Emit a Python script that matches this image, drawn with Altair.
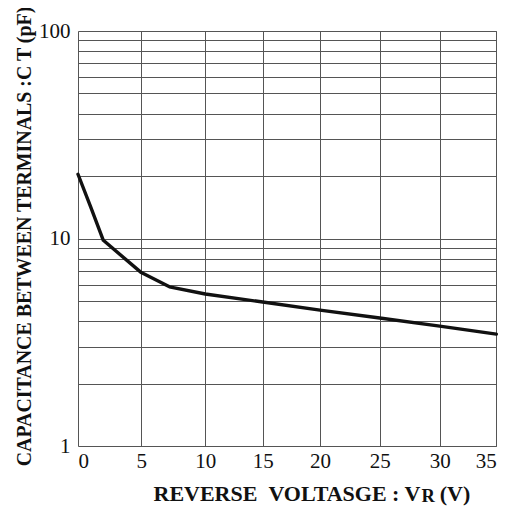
import altair as alt
import pandas as pd

# Curve values
vr = [0, 1, 2, 5, 7.2, 10, 15, 20, 25, 30, 35]
ct = [20.4, 14.2, 9.8, 6.85, 5.85, 5.4, 4.94, 4.52, 4.14, 3.78, 3.46]

x_ticks = [0, 5, 10, 15, 20, 25, 30, 35]
y_grid = [1, 2, 3, 4, 5, 6, 7, 8, 9, 10, 20, 30, 40, 50, 60, 70, 80, 90, 100]

# Hand-drawn grid of the original is not evenly spaced
x_range = [0, 63.3, 127.3, 184.7, 242, 301.7, 361.7, 418.3]

df = pd.DataFrame({"vr": vr, "ct": ct})

FONT = "Liberation Serif"
W, H = 418, 415

xscale = alt.Scale(domain=x_ticks, range=x_range)
yscale = alt.Scale(type="log", domain=[1, 100])

line = alt.Chart(df).mark_line(color="#111111", strokeWidth=3.4, strokeCap="round",
                               strokeJoin="round").encode(
    x=alt.X("vr:Q", scale=xscale,
            axis=alt.Axis(values=x_ticks, title=None, grid=True, ticks=False, domain=False,
                          gridColor="#555555", gridWidth=1, labelFont=FONT, labelFontSize=21,
                          labelColor="#111", labelPadding=4, format="d")),
    y=alt.Y("ct:Q", scale=yscale,
            axis=alt.Axis(values=y_grid, title=None, grid=True, ticks=False, domain=False,
                          gridColor="#555555", gridWidth=1, labelFont=FONT, labelFontSize=21,
                          labelColor="#111", labelPadding=8,
                          labelExpr="datum.value == 1 || datum.value == 10 || datum.value == 100 ? '' + datum.value : ''")),
)

ytitle = alt.Chart(pd.DataFrame({"t": ["CAPACITANCE BETWEEN TERMINALS :C T (pF)"]})).mark_text(
    angle=270, align="center", baseline="alphabetic", font=FONT, fontSize=19.9,
    fontWeight="bold", color="#111").encode(
    text="t:N", x=alt.value(-46.6), y=alt.value(205.5))

xt1 = alt.Chart(pd.DataFrame({"t": ["REVERSE\u00a0\u00a0VOLTASGE : V"]})).mark_text(
    align="right", baseline="alphabetic", font=FONT, fontSize=22, fontWeight="bold",
    color="#111").encode(text="t:N", x=alt.value(342.4), y=alt.value(469.7))
xt2 = alt.Chart(pd.DataFrame({"t": ["R"]})).mark_text(
    align="left", baseline="alphabetic", font=FONT, fontSize=18.5, fontWeight="bold",
    color="#111").encode(text="t:N", x=alt.value(343.4), y=alt.value(471.3))
xt3 = alt.Chart(pd.DataFrame({"t": ["(V)"]})).mark_text(
    align="left", baseline="alphabetic", font=FONT, fontSize=22, fontWeight="bold",
    color="#111").encode(text="t:N", x=alt.value(361.7), y=alt.value(469.7))

chart = alt.layer(line, ytitle, xt1, xt2, xt3).properties(
    width=W, height=H,
    autosize=alt.AutoSizeParams(type="none"),
    padding={"left": 70, "top": 23, "right": 5, "bottom": 64},
).configure_view(stroke="#555555", strokeWidth=1.5).configure(background="white")

chart.save("out.html", embed_options={"renderer": "svg", "actions": False})
